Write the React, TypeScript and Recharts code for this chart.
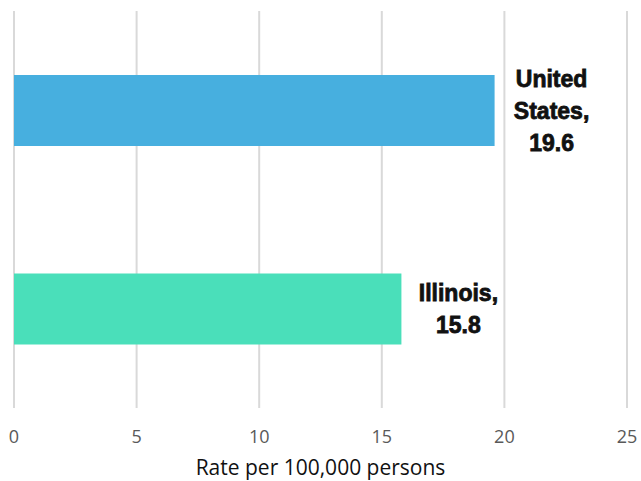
import { Bar, BarChart, CartesianGrid, Cell, LabelList, XAxis, YAxis } from 'recharts';

const regions = ['United States', 'Illinois'];
const rates = [19.6, 15.8];
const barColors = ['#47afdf', '#4adfba'];
const xTicks = [0, 5, 10, 15, 20, 25];

const data = regions.map((name, i) => ({ name, rate: rates[i] }));

function BarLabel(props: any) {
  const { x, y, width, height, index } = props;
  const words = regions[index].split(' ');
  words[words.length - 1] += ',';
  const lines = [...words, String(rates[index])];
  const lineH = 32;
  const cx = x + width + 57;
  const cy = y + height / 2;
  const top = cy - ((lines.length - 1) * lineH) / 2;
  return (
    <text
      x={cx}
      y={top}
      textAnchor="middle"
      fontFamily="'Liberation Sans', Arial, sans-serif"
      fontWeight="bold"
      fontSize={23}
      fill="#111"
      stroke="#111"
      strokeWidth={0.8}
    >
      {lines.map((l, i) => (
        <tspan key={i} x={cx} y={top + i * lineH} dy="0.36em">
          {l}
        </tspan>
      ))}
    </text>
  );
}

export default function App() {
  return (
    <div style={{ position: 'absolute', left: 0, top: 0, background: '#fff' }}>
      <BarChart
        width={641}
        height={481}
        data={data}
        layout="vertical"
        margin={{ top: 11, right: 14, bottom: 0, left: 14 }}
      >
        <CartesianGrid horizontal={false} stroke="#d9d9d9" strokeWidth={2} />
        <XAxis
          type="number"
          domain={[0, 25]}
          ticks={xTicks}
          axisLine={false}
          tickLine={false}
          tickMargin={16}
          height={73}
          tick={{ fill: '#595959', fontSize: 18, fontFamily: "'Open Sans', sans-serif" }}
          label={{
            value: 'Rate per 100,000 persons',
            position: 'insideBottom',
            offset: 6,
            fill: '#111',
            fontSize: 21,
            fontFamily: "'Open Sans', sans-serif",
          }}
        />
        <YAxis type="category" dataKey="name" hide />
        <Bar dataKey="rate" barSize={71} isAnimationActive={false}>
          {data.map((_, i) => (
            <Cell key={i} fill={barColors[i]} />
          ))}
          <LabelList dataKey="rate" content={BarLabel} />
        </Bar>
      </BarChart>
    </div>
  );
}
